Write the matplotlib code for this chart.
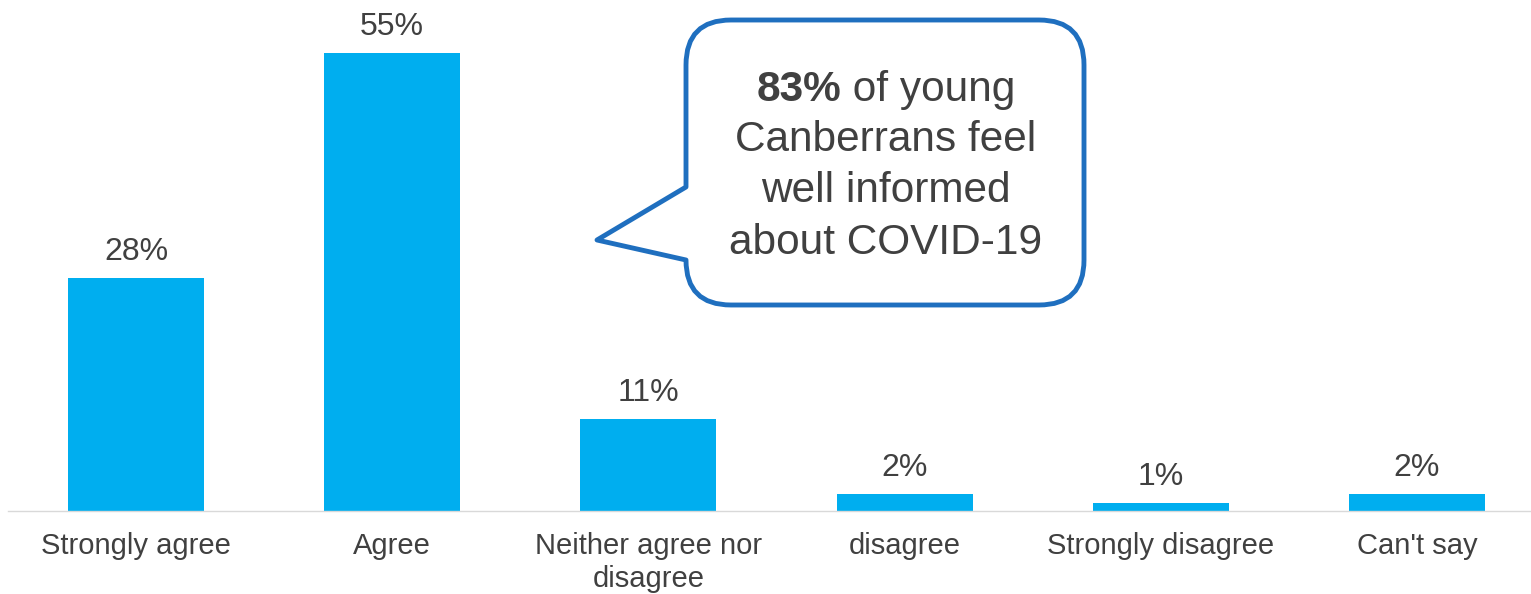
import matplotlib.pyplot as plt
from matplotlib.path import Path
from matplotlib.patches import PathPatch

categories = ["Strongly agree", "Agree", "Neither agree nor\ndisagree",
              "disagree", "Strongly disagree", "Can't say"]
values = [28, 55, 11, 2, 1, 2]
value_labels = ["28%", "55%", "11%", "2%", "1%", "2%"]

BAR_COLOR = "#00AEEF"
TEXT_COLOR = "#404040"
BOX_COLOR = "#1F6FBF"

plt.rcParams["font.family"] = ["Liberation Sans", "DejaVu Sans"]

W, H = 1531, 594
fig = plt.figure(figsize=(W / 100, H / 100), dpi=100)
ax = fig.add_axes([8 / W, 83 / H, 1 - 8 / W, 0.8411])

x = list(range(len(categories)))
bars = ax.bar(x, values, width=0.531, color=BAR_COLOR)
for b, lab in zip(bars, value_labels):
    ax.annotate(lab, (b.get_x() + b.get_width() / 2, b.get_height()),
                xytext=(0, 8), textcoords="offset points",
                ha="center", va="bottom", fontsize=23, color=TEXT_COLOR)

ax.set_xlim(-0.4996, 5.445)
ax.set_ylim(0, 60)
ax.set_xticks(x)
ax.set_xticklabels(categories, fontsize=21, color=TEXT_COLOR, linespacing=1.25)
ax.tick_params(axis="x", length=0, pad=15)
ax.set_yticks([])
for s in ["top", "right", "left"]:
    ax.spines[s].set_visible(False)
ax.spines["bottom"].set_color("#D9D9D9")
ax.spines["bottom"].set_linewidth(1)

# callout bubble, drawn in pixel coordinates on an overlay
ov = fig.add_axes([0, 0, 1, 1], zorder=5)
ov.set_xlim(0, W)
ov.set_ylim(H, 0)
ov.axis("off")
ov.patch.set_alpha(0)

L, R, T, B, r = 686, 1084, 20, 305, 45
tail_top, tail_bot, tip = 187, 260, (597, 240)
verts = [
    (L + r, T), (R - r, T),
    (R, T), (R, T + r),
    (R, B - r),
    (R, B), (R - r, B),
    (L + r, B),
    (L, B), (L, B - r),
    (L, tail_bot), tip, (L, tail_top),
    (L, T + r),
    (L, T), (L + r, T),
    (L + r, T),
]
codes = [Path.MOVETO, Path.LINETO,
         Path.CURVE3, Path.CURVE3,
         Path.LINETO,
         Path.CURVE3, Path.CURVE3,
         Path.LINETO,
         Path.CURVE3, Path.CURVE3,
         Path.LINETO, Path.LINETO, Path.LINETO,
         Path.LINETO,
         Path.CURVE3, Path.CURVE3,
         Path.CLOSEPOLY]
ov.add_patch(PathPatch(Path(verts, codes), facecolor="white",
                       edgecolor=BOX_COLOR, linewidth=3.5, joinstyle="round"))

cx = 886
fs = 30.5
fig.canvas.draw()
rend = fig.canvas.get_renderer()
t1 = ov.text(0, 0, "83%", fontsize=fs, fontweight="bold", color=TEXT_COLOR)
t2 = ov.text(0, 0, " of young", fontsize=fs, color=TEXT_COLOR)
w1 = t1.get_window_extent(rend).width
w2 = t2.get_window_extent(rend).width
start = cx - (w1 + w2) / 2
t1.set_position((start, 90))
t1.set_va("center")
t2.set_position((start + w1, 90))
t2.set_va("center")
for yy, line in zip([140, 191, 243],
                    ["Canberrans feel", "well informed", "about COVID-19"]):
    ov.text(cx, yy, line, fontsize=fs, color=TEXT_COLOR, ha="center", va="center")

fig.savefig("out.png", dpi=100, facecolor="white")
